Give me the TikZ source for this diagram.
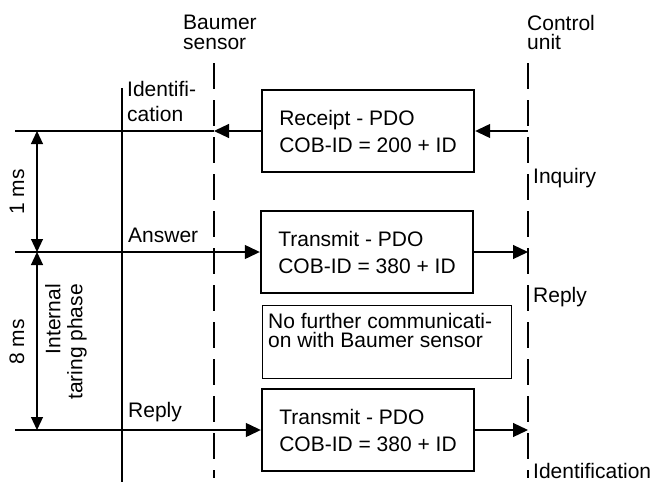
\documentclass[tikz,border=0pt]{standalone}
\usepackage{fontspec}
\setmainfont{Liberation Sans}
\usepackage{tikz}
\usetikzlibrary{arrows.meta}

\begin{document}
\begin{tikzpicture}[x=1pt,y=-1pt,
	every node/.style={font=\fontsize{21}{25}\selectfont,inner sep=0pt},
	pdo/.style={draw,line width=2.4pt,minimum width=212pt,minimum height=82pt,align=left,font=\fontsize{21}{27}\selectfont},
	note/.style={draw,line width=1.2pt,minimum width=249pt,minimum height=73pt},
	sig/.style={line width=1.2pt,-{Triangle[length=15pt,width=14pt]}},
	dim/.style={line width=1.2pt,{Triangle[length=13pt,width=12pt]}-{Triangle[length=13pt,width=12pt]}},
	life/.style={line width=1.2pt,dash pattern=on 26pt off 11pt}]
		\useasboundingbox (0,0) rectangle (666,482);
		% lifelines
		\coordinate (bstop) at (214,63); \coordinate (bsbot) at (214,478);
		\coordinate (cutop) at (528,63); \coordinate (cubot) at (528,478);
		\coordinate (tltop) at (122,88); \coordinate (tlbot) at (122,482);
		\draw[life] (bstop) -- (bsbot);
		\draw[life] (cutop) -- (cubot);
		\draw[line width=2.5pt] (tltop) -- (tlbot);
		\node[align=left,anchor=north west,font=\fontsize{21}{19.5}\selectfont] (bslbl) at (183,15) {Baumer\\sensor};
		\node[align=left,anchor=north west,font=\fontsize{21}{19.5}\selectfont] (culbl) at (527,15) {Control\\unit};
		\node[align=left,anchor=north west] (idlbl) at (127,81) {Identifi-\\cation};
		% telegrams
		\node[pdo] (receipt) at (368,131) {Receipt - PDO\\COB-ID = 200 + ID};
		\node[pdo] (answer) at (367,252) {Transmit - PDO\\COB-ID = 380 + ID};
		\node[note] (nocomm) at (387,342) {};
		\node[align=left,anchor=north west,font=\fontsize{21}{19.5}\selectfont] (nocommtxt) at ([shift={(6,8)}]nocomm.north west) {No further communicati-\\on with Baumer sensor};
		\node[pdo] (reply) at (368,430) {Transmit - PDO\\COB-ID = 380 + ID};
		% rows
		\foreach \n/\y in {1/131,2/252,3/430} {
			\coordinate (w\n) at (15,\y);
			\coordinate (bs\n) at (214,\y);
			\coordinate (cu\n) at (528,\y);
			\coordinate (d\n) at (37,\y);
		}
		\draw[line width=1.2pt] (w1) -- (bs1);
		\draw[sig] (receipt.west) -- (bs1);
		\draw[sig] (cu1) -- (receipt.east);
		\draw[sig] (w2) -- (answer.west);
		\draw[sig] (answer.east) -- (cu2);
		\draw[sig] (w3) -- (reply.west);
		\draw[sig] (reply.east) -- (cu3);
		\draw[dim] (d1) -- (d2);
		\draw[dim] (d2) -- (d3);
		\node[rotate=90] (onems) at (17,192) {1 ms};
		\node[rotate=90] (eightms) at (17,342) {8 ms};
		\node[rotate=90,align=right,font=\fontsize{21}{22}\selectfont] (taring) at (66,342) {Internal\\taring phase};
		\node[anchor=base west] (anslbl) at (128,242) {Answer};
		\node[anchor=base west] (replbl) at (128,417) {Reply};
		\foreach \y/\t in {183/Inquiry,302/Reply,478/Identification} \node[anchor=base west] (cu\y) at (533,\y) {\t};
	\end{tikzpicture}
\end{document}
